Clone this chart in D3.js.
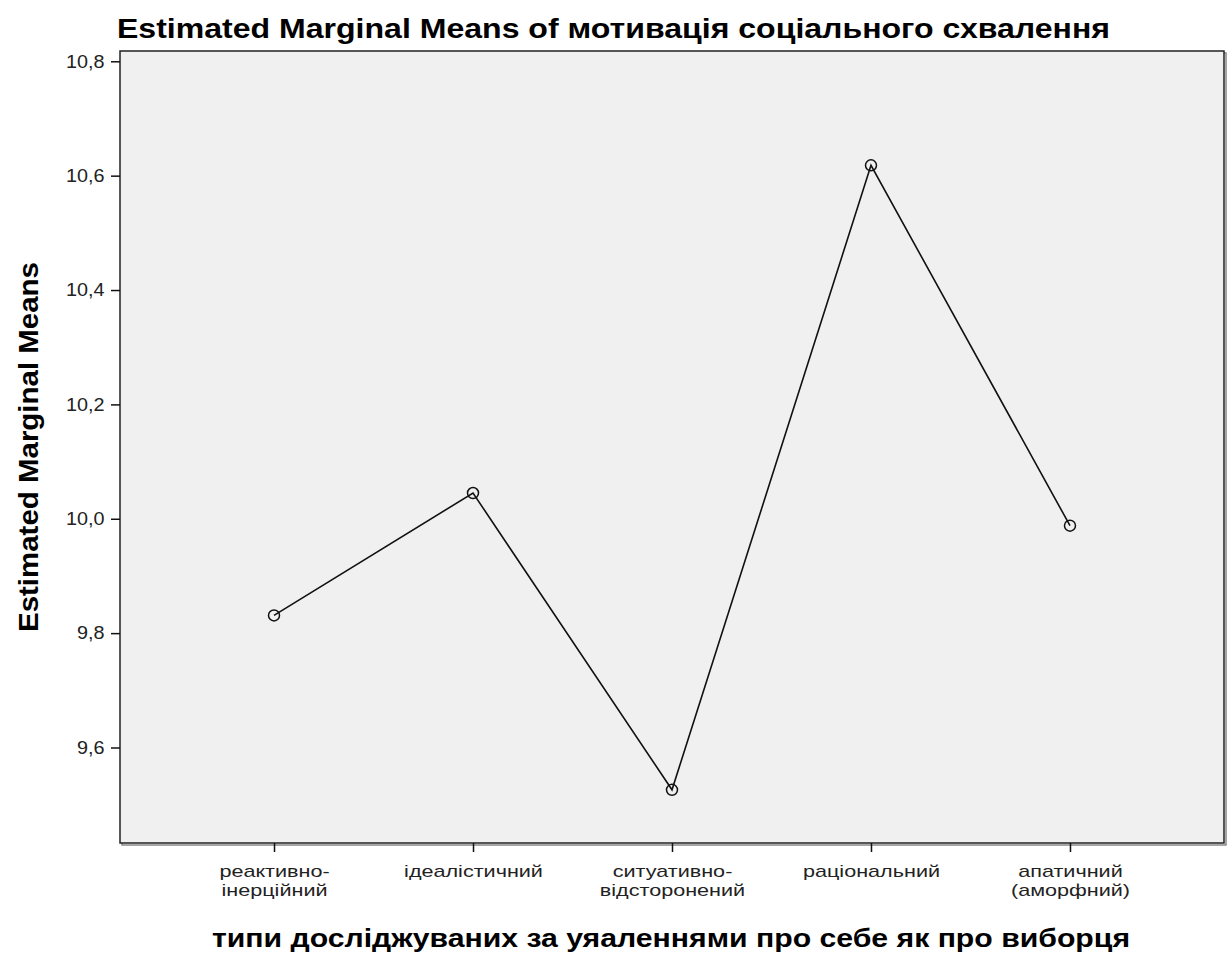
<!DOCTYPE html>
<html>
<head>
<meta charset="utf-8">
<script src="https://cdn.jsdelivr.net/npm/d3@7"></script>
<style>
  body { margin: 0; background: #fff; }
  text { font-family: "Liberation Sans", Arial, sans-serif; }
</style>
</head>
<body>
<div id="chart"></div>
<script>
// Data
var categories = [
	["реактивно-", "інерційний"],
	["ідеалістичний"],
	["ситуативно-", "відсторонений"],
	["раціональний"],
	["апатичний", "(аморфний)"]
];
var means = [9.831, 10.045, 9.526, 10.618, 9.988];
var yTicks = [9.6, 9.8, 10.0, 10.2, 10.4, 10.6, 10.8];

var titleText = "Estimated Marginal Means of мотивація соціального схвалення";
var yTitle = "Estimated Marginal Means";
var xTitle = "типи досліджуваних за уяаленнями про себе як про виборця";

function createChart(){
	var W = 1227, H = 960;
	var margin = {left: 120, right: 3, top: 51, bottom: 117};
	var width = W - margin.left - margin.right;
	var height = H - margin.top - margin.bottom;

	var svg = d3.select("#chart")
				.append("svg")
				.attr("width", W)
				.attr("height", H);

	// scales
	var idx = categories.map(function(d, i){ return i; });
	var xScale = d3.scalePoint().domain(idx).range([0, width]).padding(0.774);
	var yScale = d3.scaleLinear().domain([9.433, 10.818]).range([height, 0]);

	// title
	svg.append("text")
		.attr("x", 117)
		.attr("y", 38)
		.attr("font-size", "28px")
		.attr("font-weight", "bold")
		.attr("fill", "#000")
		.attr("textLength", 993)
		.attr("lengthAdjust", "spacingAndGlyphs")
		.text(titleText);

	var g = svg.append("g")
				.attr("transform", "translate(" + margin.left + "," + margin.top + ")");

	// shadow of the frame
	g.append("rect")
		.attr("x", 2).attr("y", 2)
		.attr("width", width).attr("height", height)
		.attr("fill", "none")
		.attr("stroke", "#888")
		.attr("stroke-width", 1.5);

	// plot background
	g.append("rect")
		.attr("width", width)
		.attr("height", height)
		.attr("fill", "#f0f0f0")
		.attr("stroke", "#222")
		.attr("stroke-width", 1.5);

	// y axis
	var yAxis = d3.axisLeft(yScale)
				.tickValues(yTicks)
				.tickSize(9)
				.tickPadding(5)
				.tickFormat(function(d){ return d3.format(".1f")(d).replace(".", ","); });
	var ya = g.append("g").call(yAxis);
	ya.select(".domain").remove();
	ya.selectAll(".tick line").attr("stroke", "#111").attr("stroke-width", 1.5);
	ya.selectAll(".tick text")
		.attr("font-size", "18px")
		.attr("fill", "#222")
		.attr("x", -14)
		.attr("transform", "scale(1.1,1)")
		.style("font-family", "Liberation Sans, Arial, sans-serif");

	// x axis
	var xAxis = d3.axisBottom(xScale)
				.tickSize(9)
				.tickFormat("");
	var xa = g.append("g")
				.attr("transform", "translate(0," + height + ")")
				.call(xAxis);
	xa.select(".domain").remove();
	xa.selectAll(".tick line").attr("stroke", "#111").attr("stroke-width", 1.5);
	xa.selectAll(".tick").each(function(d){
		var t = d3.select(this).append("text")
			.attr("text-anchor", "middle")
			.attr("fill", "#222")
			.attr("font-size", "16px")
			.attr("transform", "scale(1.35,1)")
			.style("font-family", "Liberation Sans, Arial, sans-serif");
		categories[d].forEach(function(line, k){
			t.append("tspan")
				.attr("x", 0)
				.attr("y", 34 + k * 19)
				.text(line);
		});
	});

	// line
	var line = d3.line()
				.x(function(d, i){ return xScale(i); })
				.y(function(d){ return yScale(d); });

	g.append("path")
		.datum(means)
		.attr("d", line)
		.attr("fill", "none")
		.attr("stroke", "#111")
		.attr("stroke-width", 1.6);

	// points
	g.selectAll(".pt")
		.data(means)
		.enter()
		.append("circle")
		.attr("class", "pt")
		.attr("cx", function(d, i){ return xScale(i); })
		.attr("cy", function(d){ return yScale(d); })
		.attr("r", 5.5)
		.attr("fill", "none")
		.attr("stroke", "#111")
		.attr("stroke-width", 1.5);

	// axis titles
	svg.append("text")
		.attr("transform", "translate(38," + (margin.top + height / 2) + ") rotate(-90)")
		.attr("text-anchor", "middle")
		.attr("font-size", "27px")
		.attr("font-weight", "bold")
		.attr("fill", "#000")
		.attr("textLength", 370)
		.attr("lengthAdjust", "spacingAndGlyphs")
		.text(yTitle);

	svg.append("text")
		.attr("x", margin.left + width / 2 - 1)
		.attr("y", 947)
		.attr("text-anchor", "middle")
		.attr("font-size", "25px")
		.attr("font-weight", "bold")
		.attr("fill", "#000")
		.attr("textLength", 918)
		.attr("lengthAdjust", "spacingAndGlyphs")
		.text(xTitle);
}
createChart();
</script>
</body>
</html>
